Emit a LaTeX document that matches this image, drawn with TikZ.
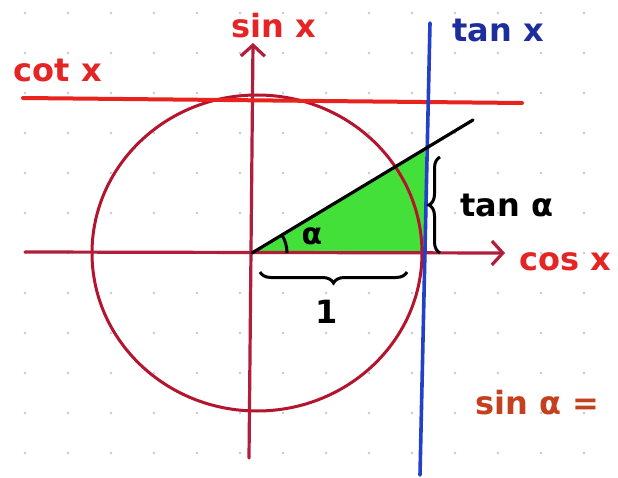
\documentclass[tikz,border=0pt]{standalone}
\usepackage{fontspec}
\setmainfont{DejaVu Sans}
\usetikzlibrary{decorations.pathreplacing,arrows.meta,calc}
\definecolor{axisred}{HTML}{B01E3C}
\definecolor{circred}{HTML}{B4142D}
\definecolor{brightred}{HTML}{E8231E}
\definecolor{labred}{HTML}{E52525}
\definecolor{tblue}{HTML}{1E2D9C}
\definecolor{lblue}{HTML}{2340C8}
\definecolor{fgreen}{HTML}{44E03A}
\definecolor{brownred}{HTML}{C4401E}
\definecolor{dotgray}{HTML}{C4CAD4}
\begin{document}
\begin{tikzpicture}[x=1pt,y=-1pt,
  axisline/.style={axisred,line width=3.2pt,line cap=round},
  harrow/.style={-{Straight Barb[length=11pt,width=24pt,line width=3.2pt]}},
  lbl/.style={font=\fontsize{32}{34}\selectfont\bfseries,inner sep=0pt},
  brace/.style={decorate,decoration={brace,amplitude=11pt},line width=3pt,black}]
\useasboundingbox (0,0) rectangle (618,478);
\fill[white] (0,0) rectangle (618,478);
% grid dots
\foreach \i in {0,...,13}
  \foreach \j in {0,...,11}
    \fill[dotgray] (25+43*\i,13+40*\j) circle (1.3);
% coordinates
\coordinate (O) at (252,253);
\coordinate (xs) at (25,252);
\coordinate (xe) at (505,253);
\coordinate (ys) at (249,458);
\coordinate (ye) at (253,43);
\coordinate (T) at (425,253);
\coordinate (P) at (425,150);
\coordinate (R) at (473,120);
\coordinate (cots) at (23,98);
\coordinate (cote) at (522,103);
\coordinate (tans) at (430,23);
\coordinate (tane) at (420,475);
% green triangle
\fill[fgreen] (O) -- (T) -- (P) -- cycle;
% circle
\draw[circred,line width=3pt] (257,253) ellipse [x radius=165, y radius=158];
% axes
\draw[axisline,harrow] (xs) -- (xe);
\draw[axisline,harrow] (ys) -- (ye);
% cot line
\draw[brightred,line width=4pt,line cap=round] (cots) -- (cote);
% tan line
\draw[lblue,line width=3.6pt,line cap=round] (tans) -- (tane);
% ray
\draw[black,line width=3.2pt,line cap=round] (O) -- (R);
% angle arc
\coordinate (A0) at (287,253);
\draw[black,line width=3pt] (A0) arc[start angle=0,end angle=-31,radius=35];
\node[font=\fontsize{30}{32}\selectfont\bfseries,inner sep=0pt] (alpha) at (312,236) {α};
% braces
\coordinate (b1a) at (440,253);
\coordinate (b1b) at (440,157);
\draw[brace] (b1a) -- (b1b);
\node[lbl,anchor=west] (tana) at (460,205) {tan α};
\coordinate (b2a) at (407,272);
\coordinate (b2b) at (260,272);
\draw[brace] (b2a) -- (b2b);
\node[lbl] (one) at (327,312) {1};
% labels
\node[lbl,labred] (sinx) at (274,26) {sin x};
\node[lbl,tblue] (tanx) at (498,30) {tan x};
\node[lbl,labred] (cotx) at (58,70) {cot x};
\node[lbl,labred] (cosx) at (565,262) {cos x};
\node[lbl,brownred] (sina) at (537,403) {sin α =};
\end{tikzpicture}
\end{document}
